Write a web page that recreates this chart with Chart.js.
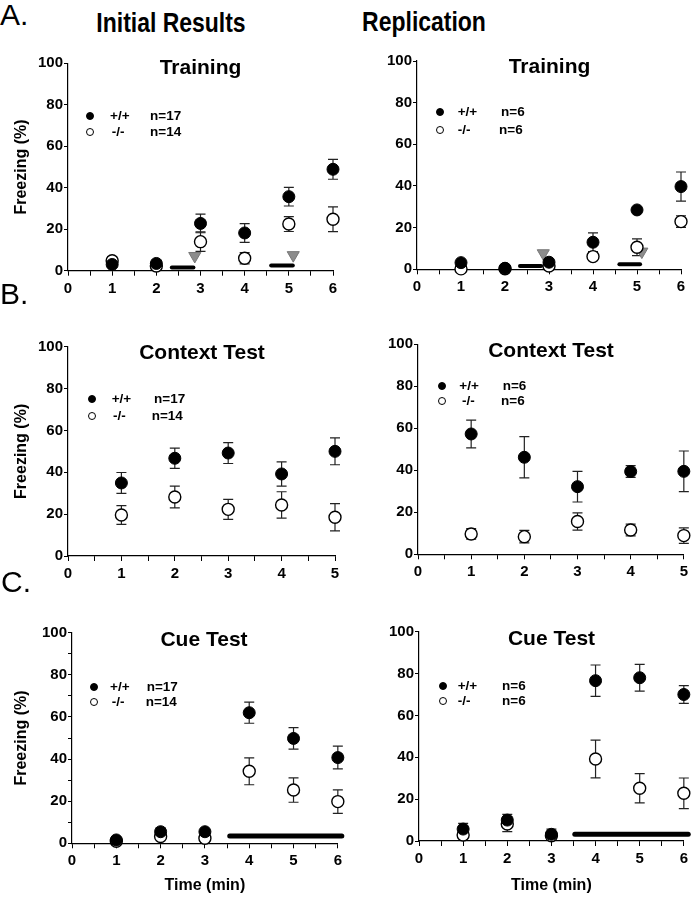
<!DOCTYPE html>
<html>
<head>
<meta charset="utf-8">
<script src="https://cdn.jsdelivr.net/npm/chart.js@4.4.1/dist/chart.umd.min.js"></script>
<style>
  body { margin: 0; background: #fff; width: 692px; height: 899px; position: relative; overflow: hidden;
         font-family: "Liberation Sans", Arial, Helvetica, sans-serif; color: #000; }
  canvas { position: absolute; }
  .txt { position: absolute; line-height: 1; white-space: nowrap; transform: translate(-50%, -50%); }
  .head { font-weight: bold; font-size: 28px; transform: translate(-50%, -50%) scaleX(0.82); }
  .letter { font-size: 30px; transform: translate(0, -50%); }
  .ptitle { font-weight: bold; font-size: 21px; }
  .leg { position: absolute; line-height: 1; font-weight: bold; font-size: 13.5px; transform: translateY(-50%); white-space: nowrap; }
  .dot { position: absolute; width: 8px; height: 8px; border-radius: 50%; box-sizing: border-box; transform: translate(-50%, -50%); }
</style>
</head>
<body>
<script>
// ---- data ----
const trainX = [1, 2, 3, 4, 5, 6];
const contextX = [1, 2, 3, 4, 5];
const cueX = [1, 2, 3, 4, 5, 6];
const yTicks = [0, 20, 40, 60, 80, 100];

// Initial results
const initTrainWT = [3, 3.5, 22.8, 18.2, 35.7, 48.9];
const initTrainWTErr = [1.2, 1, 4.5, 4.5, 4.5, 4.8];
const initTrainKO = [4.8, 2.3, 14, 6, 22.5, 24.8];
const initTrainKOErr = [2, 1, 4.7, 2.7, 3.6, 6];
const initToneStart = [2.35, 4.6];
const initToneEnd = [2.84, 5.09];
const initToneLevel = [1.5, 2.5];
const initShockX = [2.87, 5.1];
const initShockY = [7.1, 7.5];

const initContextWT = [34.9, 46.7, 49.2, 39.2, 50];
const initContextWTErr = [5, 4.8, 5, 5.8, 6.4];
const initContextKO = [19.6, 28.2, 22.3, 24.4, 18.5];
const initContextKOErr = [4.5, 5.2, 4.8, 6.3, 6.5];

const initCueWT = [1.6, 5.5, 5.5, 62, 49.8, 40.7];
const initCueWTErr = [0.8, 1.8, 0.8, 5, 5.1, 5.4];
const initCueKO = [1, 3.2, 2.4, 34.2, 25.3, 19.8];
const initCueKOErr = [0.5, 1, 0.8, 6.4, 5.8, 5.6];
const initCueTone = [3.56, 6.09];
const initCueToneLevel = 3.5;

// Replication
const repTrainWT = [3.2, 0.5, 3.4, 13, 28.5, 39.7];
const repTrainWTErr = [0.8, 0.5, 0.8, 4.5, 1, 7];
const repTrainKO = [0.2, 0.3, 1.6, 6.1, 10.6, 22.9];
const repTrainKOErr = [0.3, 0.3, 0.8, 1, 4, 2.8];
const repToneStart = [2.34, 4.6];
const repToneEnd = [2.82, 5.07];
const repToneLevel = [1.6, 2.4];
const repShockX = [2.87, 5.11];
const repShockY = [7.7, 8.5];

const repContextWT = [57.3, 46.2, 32.2, 39.4, 39.5];
const repContextWTErr = [6.6, 9.8, 7.3, 2.8, 9.7];
const repContextKO = [9.7, 8.4, 15.6, 11.6, 8.9];
const repContextKOErr = [2.5, 3, 4.1, 2.8, 3.7];

const repCueWT = [5.7, 10, 3.2, 76.6, 78, 70];
const repCueWTErr = [2.7, 2.7, 2.5, 7.5, 6.4, 4.2];
const repCueKO = [2.9, 8.1, 2.5, 39.2, 25.2, 22.8];
const repCueKOErr = [1, 3.6, 1, 9, 7, 7.3];
const repCueTone = [3.53, 6.1];
const repCueToneLevel = 3.2;

const nInit = ["n=17", "n=14"];
const nRep = ["n=6", "n=6"];

// ---- helpers ----
Chart.defaults.font.family = '"Liberation Sans", Arial, Helvetica, sans-serif';
Chart.defaults.color = '#000';

const pts = (xs, ys) => xs.map((x, i) => ({ x: x, y: ys[i] }));

// error bars drawn under the markers, through the chart scales
const errorBars = {
  id: 'errorBars',
  beforeDatasetsDraw(chart) {
    const { ctx, scales: { x, y } } = chart;
    ctx.save();
    ctx.strokeStyle = '#222';
    ctx.lineWidth = 1.2;
    chart.data.datasets.forEach(ds => {
      if (!ds.errors) return;
      ds.data.forEach((p, i) => {
        const e = ds.errors[i];
        const px = x.getPixelForValue(p.x);
        const top = y.getPixelForValue(p.y + e);
        const bot = y.getPixelForValue(Math.max(p.y - e, 0));
        ctx.beginPath();
        ctx.moveTo(px, top); ctx.lineTo(px, bot);
        ctx.moveTo(px - 5, top); ctx.lineTo(px + 5, top);
        ctx.moveTo(px - 5, bot); ctx.lineTo(px + 5, bot);
        ctx.stroke();
      });
    });
    ctx.restore();
  }
};

function wtSet(xs, ys, err) {
  return { data: pts(xs, ys), errors: err, pointRadius: 6, pointBackgroundColor: '#000',
           pointBorderColor: '#000', pointBorderWidth: 1, showLine: false, clip: false };
}
function koSet(xs, ys, err) {
  return { data: pts(xs, ys), errors: err, pointRadius: 6, pointBackgroundColor: '#fff',
           pointBorderColor: '#000', pointBorderWidth: 1.4, showLine: false, clip: false };
}
function toneSet(x0, x1, level, width) {
  return { data: [{ x: x0, y: level }, { x: x1, y: level }], showLine: true, borderColor: '#000',
           borderWidth: width, pointRadius: 0, borderCapStyle: 'round', clip: false };
}
function shockSet(xs, ys) {
  return { data: pts(xs, ys), pointStyle: 'triangle', rotation: 180, pointRadius: 7,
           pointBackgroundColor: '#8c8c8c', pointBorderColor: '#777', pointBorderWidth: 1,
           showLine: false, clip: false };
}

function makePanel(g, xMax, datasets, yTitle, xTitle) {
  const c = document.createElement('canvas');
  const cw = 346;
  const ch = g.canvasB - g.canvasT;
  c.width = cw; c.height = ch;
  c.style.left = g.canvasL + 'px';
  c.style.top = g.canvasT + 'px';
  document.body.appendChild(c);
  const tickFont = { size: 15, weight: 'bold' };
  new Chart(c, {
    type: 'scatter',
    data: { datasets: datasets },
    options: {
      responsive: false,
      animation: false,
      events: [],
      layout: { padding: { left: 0, right: cw - (g.right - g.canvasL), top: g.top - g.canvasT, bottom: 0 } },
      plugins: { legend: { display: false }, tooltip: { enabled: false } },
      scales: {
        x: {
          type: 'linear', min: 0, max: xMax,
          afterFit: s => { s.height = g.canvasB - g.bottom; },
          ticks: { stepSize: 0.5, autoSkip: false, maxRotation: 0, padding: 4, font: tickFont,
                   callback: v => Number.isInteger(v) ? String(v) : '' },
          grid: { drawOnChartArea: false, tickLength: 5, color: '#000', tickWidth: 1 },
          border: { color: '#000', width: 1.2 },
          title: { display: !!xTitle, text: xTitle || '', font: { size: 16, weight: 'bold' },
                   padding: { top: 0, bottom: 4 } }
        },
        y: {
          min: 0, max: 100,
          afterFit: s => { s.width = g.left - g.canvasL; },
          ticks: { stepSize: 10, padding: 1, font: tickFont,
                   callback: v => yTicks.includes(v) ? String(v) : '' },
          grid: { drawOnChartArea: false, tickLength: 4, color: '#000', tickWidth: 1 },
          border: { color: '#000', width: 1.2 },
          title: { display: !!yTitle, text: yTitle || '', font: { size: 16, weight: 'bold' },
                   padding: { top: 12, bottom: 0 } }
        }
      }
    },
    plugins: [errorBars]
  });
}

function addText(cls, text, x, y) {
  const d = document.createElement('div');
  d.className = cls;
  d.textContent = text;
  d.style.left = x + 'px';
  d.style.top = y + 'px';
  document.body.appendChild(d);
}

function addLegend(lg, nLabels) {
  const rows = [['+/+', '#000'], ['-/-', '#fff']];
  rows.forEach((r, i) => {
    const y = lg.y[i];
    const dot = document.createElement('div');
    dot.className = 'dot';
    dot.style.left = lg.dotX + 'px';
    dot.style.top = y + 'px';
    dot.style.background = r[1];
    dot.style.border = i === 0 ? '1px solid #000' : '1.3px solid #000';
    document.body.appendChild(dot);
    const a = document.createElement('div');
    a.className = 'leg'; a.textContent = r[0];
    a.style.left = lg.symX[i] + 'px'; a.style.top = y + 'px';
    document.body.appendChild(a);
    const b = document.createElement('div');
    b.className = 'leg'; b.textContent = nLabels[i];
    b.style.left = lg.nX[i] + 'px'; b.style.top = y + 'px';
    document.body.appendChild(b);
  });
}

// ---- panel geometry (page pixels) ----
const geo = {
  aL: { canvasL: 0,   canvasT: 51,  canvasB: 300, left: 68,  right: 333, top: 63.3,  bottom: 270.7 },
  aR: { canvasL: 346, canvasT: 49,  canvasB: 298, left: 417, right: 681, top: 61,    bottom: 269.3 },
  bL: { canvasL: 0,   canvasT: 334, canvasB: 585, left: 68,  right: 335, top: 346.7, bottom: 556 },
  bR: { canvasL: 346, canvasT: 332, canvasB: 583, left: 418, right: 684, top: 344.3, bottom: 554.3 },
  cL: { canvasL: 0,   canvasT: 620, canvasB: 899, left: 72,  right: 338, top: 632.7, bottom: 843.3 },
  cR: { canvasL: 346, canvasT: 619, canvasB: 899, left: 419, right: 685, top: 631.7, bottom: 841 }
};

makePanel(geo.aL, 6, [
  wtSet(trainX, initTrainWT, initTrainWTErr),
  koSet(trainX, initTrainKO, initTrainKOErr),
  toneSet(initToneStart[0], initToneEnd[0], initToneLevel[0], 4),
  toneSet(initToneStart[1], initToneEnd[1], initToneLevel[1], 4),
  shockSet(initShockX, initShockY)
], 'Freezing (%)', null);

makePanel(geo.aR, 6, [
  wtSet(trainX, repTrainWT, repTrainWTErr),
  koSet(trainX, repTrainKO, repTrainKOErr),
  toneSet(repToneStart[0], repToneEnd[0], repToneLevel[0], 4),
  toneSet(repToneStart[1], repToneEnd[1], repToneLevel[1], 4),
  shockSet(repShockX, repShockY)
], null, null);

makePanel(geo.bL, 5, [
  wtSet(contextX, initContextWT, initContextWTErr),
  koSet(contextX, initContextKO, initContextKOErr)
], 'Freezing (%)', null);

makePanel(geo.bR, 5, [
  wtSet(contextX, repContextWT, repContextWTErr),
  koSet(contextX, repContextKO, repContextKOErr)
], null, null);

makePanel(geo.cL, 6, [
  wtSet(cueX, initCueWT, initCueWTErr),
  koSet(cueX, initCueKO, initCueKOErr),
  toneSet(initCueTone[0], initCueTone[1], initCueToneLevel, 5)
], 'Freezing (%)', 'Time (min)');

makePanel(geo.cR, 6, [
  wtSet(cueX, repCueWT, repCueWTErr),
  koSet(cueX, repCueKO, repCueKOErr),
  toneSet(repCueTone[0], repCueTone[1], repCueToneLevel, 5)
], null, 'Time (min)');

// ---- text overlays ----
addText('txt letter', 'A.', 0, 15);
addText('txt letter', 'B.', 0, 294);
addText('txt letter', 'C.', 1, 582);
addText('txt head', 'Initial Results', 171, 23);
addText('txt head', 'Replication', 423.5, 22);

addText('txt ptitle', 'Training', 200.5, 66);
addText('txt ptitle', 'Training', 549.5, 64.5);
addText('txt ptitle', 'Context Test', 202, 351);
addText('txt ptitle', 'Context Test', 551, 348.5);
addText('txt ptitle', 'Cue Test', 204, 637.5);
addText('txt ptitle', 'Cue Test', 551.5, 637);

addLegend({ dotX: 90, y: [115.7, 131.7], symX: [110, 111.7], nX: [150, 150] }, nInit);
addLegend({ dotX: 440, y: [112.3, 130], symX: [457.7, 457.7], nX: [501, 499] }, nRep);
addLegend({ dotX: 91.7, y: [399.3, 416], symX: [111.7, 113], nX: [154, 151.7] }, nInit);
addLegend({ dotX: 442, y: [386, 401], symX: [459.3, 462], nX: [502.7, 501] }, nRep);
addLegend({ dotX: 94.3, y: [686.7, 701.7], symX: [110, 111.7], nX: [146.7, 145.7] }, nInit);
addLegend({ dotX: 442.7, y: [685.7, 701], symX: [457.7, 457.7], nX: [502, 502] }, nRep);
</script>
</body>
</html>
